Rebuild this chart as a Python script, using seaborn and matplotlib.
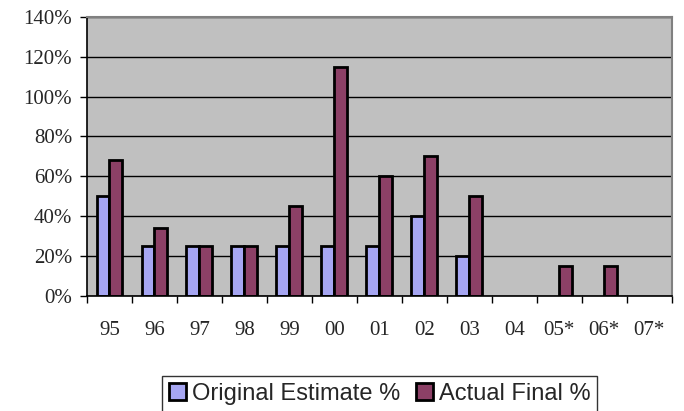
import numpy as np
import pandas as pd
import matplotlib
matplotlib.use("Agg")
import matplotlib.pyplot as plt
from matplotlib.ticker import FuncFormatter, FixedLocator
import seaborn as sns

years = ["95", "96", "97", "98", "99", "00", "01", "02", "03", "04", "05*", "06*", "07*"]
original_estimate = [50, 25, 25, 25, 25, 25, 25, 40, 20, np.nan, np.nan, np.nan, np.nan]
actual_final = [68, 34, 25, 25, 45, 115, 60, 70, 50, np.nan, 15, 15, np.nan]
series_names = ["Original Estimate %", "Actual Final %"]
colors = ["#9999FF", "#993366"]

df = pd.DataFrame({
    "year": years * 2,
    "value": original_estimate + actual_final,
    "series": [series_names[0]] * len(years) + [series_names[1]] * len(years),
})

sns.set_theme(style="white")
fig = plt.figure(figsize=(6.84, 4.11), dpi=100)
ax = fig.add_axes([0.127, 0.280, 0.855, 0.679])

sns.barplot(data=df, x="year", y="value", hue="series", order=years,
            hue_order=series_names, palette=colors, width=0.571,
            edgecolor="black", linewidth=2.0, ax=ax, legend=True)

ax.set_facecolor("#C0C0C0")
ax.set_ylim(0, 140)
ax.set_xlim(-0.5, len(years) - 0.5)
ax.set_yticks(np.arange(0, 141, 20))
ax.yaxis.set_major_formatter(FuncFormatter(lambda v, p: f"{int(v)}%"))
ax.grid(axis="y", color="black", linewidth=1.0)
ax.set_axisbelow(True)
ax.set_xlabel("")
ax.set_ylabel("")

serif = ["Liberation Serif", "DejaVu Serif"]
for lbl in ax.get_yticklabels():
    lbl.set_fontfamily(serif)
    lbl.set_fontsize(15)
ax.tick_params(axis="y", which="major", length=5, width=1.0, color="black",
               direction="out", left=True, pad=5.5)

# category labels centred, tick marks on category boundaries
ax.set_xticks(range(len(years)))
ax.set_xticklabels(years, fontfamily=serif, fontsize=15)
ax.tick_params(axis="x", which="major", length=0, pad=18)
ax.xaxis.set_minor_locator(FixedLocator(np.arange(-0.5, len(years), 1.0)))
ax.tick_params(axis="x", which="minor", length=5, width=1.0, color="black",
               direction="out", bottom=True)

for side in ["left", "bottom"]:
    ax.spines[side].set_color("black")
    ax.spines[side].set_linewidth(1.2)
for side in ["top", "right"]:
    ax.spines[side].set_color("#808080")
    ax.spines[side].set_linewidth(1.5)

handles, labels = ax.get_legend_handles_labels()
ax.get_legend().remove()
leg = fig.legend(handles, labels, loc="upper center",
                 bbox_to_anchor=(0.555, 1 - 376 / 411),
                 ncol=2, frameon=True, fancybox=False, edgecolor="black",
                 handlelength=0.72, handleheight=0.72, handletextpad=0.25,
                 columnspacing=0.65, borderpad=0.3, borderaxespad=0.0,
                 prop={"family": ["Liberation Sans", "DejaVu Sans"], "size": 17})
leg.get_frame().set_linewidth(1.0)
for h in leg.legend_handles:
    h.set_edgecolor("black")
    h.set_linewidth(2.0)

fig.savefig("out.png", dpi=100)
